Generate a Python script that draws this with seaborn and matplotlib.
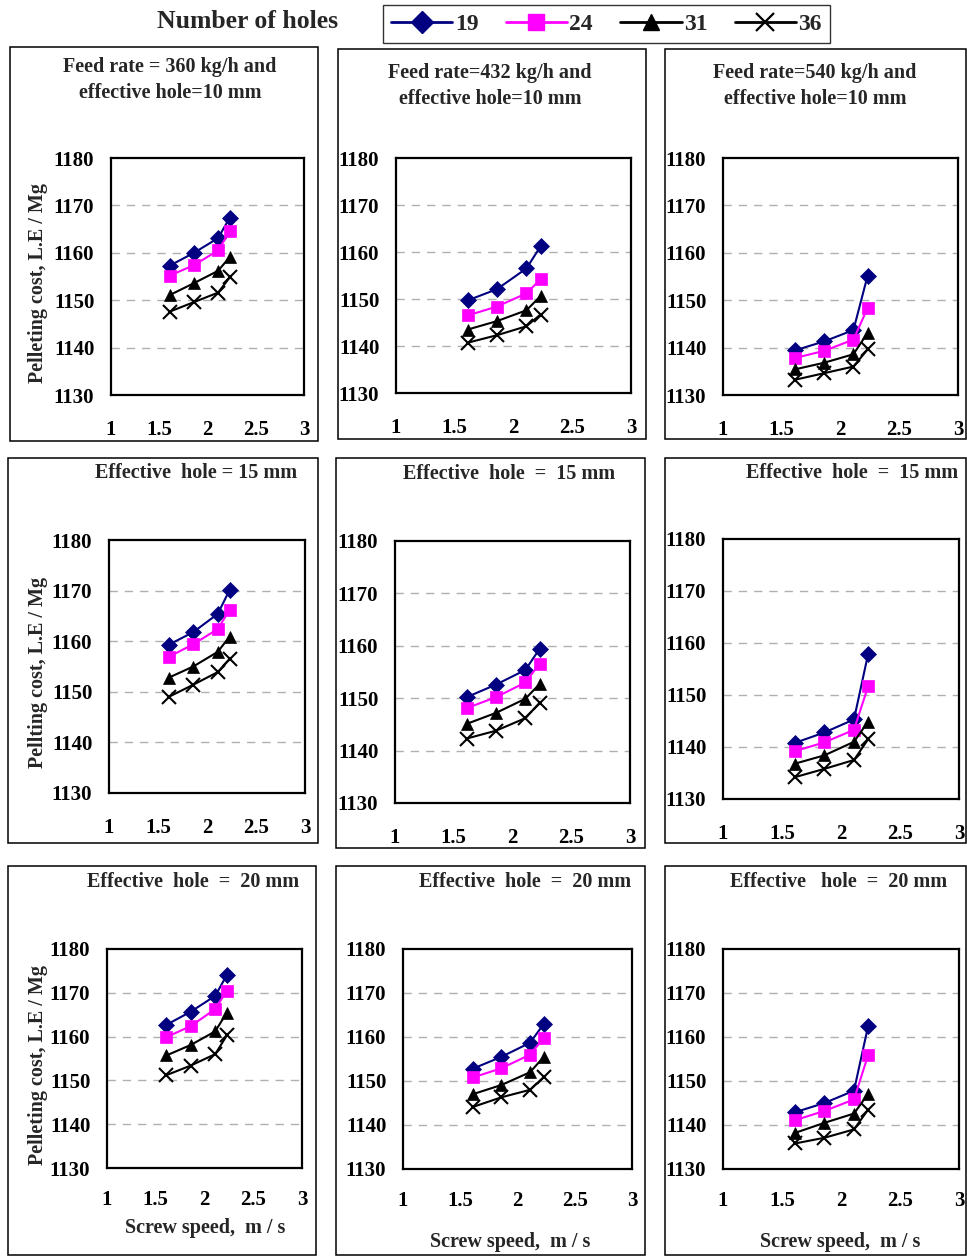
import matplotlib
matplotlib.use("Agg")
import matplotlib.pyplot as plt
import matplotlib.patches as mpatches
from matplotlib.lines import Line2D
import seaborn as sns
import pandas as pd

sns.set_theme(style="white")
plt.rcParams['font.family'] = ['Liberation Serif', 'DejaVu Serif']
plt.rcParams['font.weight'] = 'bold'

# ---------------- data ----------------
speed = [1.61, 1.86, 2.11, 2.23]
holes = ["19", "24", "31", "36"]

# row 1: effective hole = 10 mm ; feed rates 360 / 432 / 540 kg/h
r1c1_19 = [1157.3, 1160.0, 1163.1, 1167.4]
r1c1_24 = [1155.2, 1157.4, 1160.5, 1164.5]
r1c1_31 = [1151.1, 1153.6, 1156.2, 1159.1]
r1c1_36 = [1147.6, 1149.6, 1151.6, 1154.8]

r1c2_19 = [1149.7, 1152.1, 1156.5, 1161.2]
r1c2_24 = [1146.5, 1148.4, 1151.2, 1154.2]
r1c2_31 = [1143.5, 1145.3, 1147.6, 1150.6]
r1c2_36 = [1140.7, 1142.3, 1144.2, 1146.7]

r1c3_19 = [1139.4, 1141.3, 1143.7, 1155.1]
r1c3_24 = [1137.8, 1139.3, 1141.7, 1148.3]
r1c3_31 = [1135.4, 1136.8, 1138.6, 1143.1]
r1c3_36 = [1133.2, 1134.6, 1136.0, 1139.6]

# row 2: effective hole = 15 mm
r2c1_19 = [1159.3, 1161.8, 1165.4, 1170.1]
r2c1_24 = [1156.9, 1159.4, 1162.4, 1166.2]
r2c1_31 = [1152.8, 1155.0, 1157.9, 1160.9]
r2c1_36 = [1149.0, 1151.4, 1153.9, 1156.5]

r2c2_19 = [1150.2, 1152.6, 1155.4, 1159.4]
r2c2_24 = [1148.1, 1150.2, 1153.0, 1156.6]
r2c2_31 = [1145.1, 1147.2, 1149.9, 1152.7]
r2c2_36 = [1142.3, 1143.8, 1146.2, 1149.1]

r2c3_19 = [1140.8, 1142.8, 1145.3, 1157.9]
r2c3_24 = [1139.2, 1140.9, 1143.3, 1151.7]
r2c3_31 = [1136.8, 1138.4, 1141.0, 1144.9]
r2c3_36 = [1134.2, 1135.8, 1137.5, 1141.5]

# row 3: effective hole = 20 mm
r3c1_19 = [1162.7, 1165.7, 1169.3, 1174.1]
r3c1_24 = [1159.9, 1162.4, 1166.3, 1170.5]
r3c1_31 = [1155.7, 1158.1, 1161.2, 1165.5]
r3c1_36 = [1151.2, 1153.4, 1156.0, 1160.3]

r3c2_19 = [1152.8, 1155.5, 1158.7, 1163.0]
r3c2_24 = [1150.8, 1152.9, 1156.0, 1159.8]
r3c2_31 = [1147.0, 1149.1, 1152.0, 1155.5]
r3c2_36 = [1144.1, 1146.3, 1148.0, 1150.9]

r3c3_19 = [1142.9, 1145.0, 1147.8, 1162.5]
r3c3_24 = [1141.1, 1143.2, 1145.8, 1155.9]
r3c3_31 = [1138.2, 1140.5, 1142.6, 1147.1]
r3c3_36 = [1135.8, 1137.1, 1139.0, 1143.5]

panel_series = [
    [r1c1_19, r1c1_24, r1c1_31, r1c1_36],
    [r1c2_19, r1c2_24, r1c2_31, r1c2_36],
    [r1c3_19, r1c3_24, r1c3_31, r1c3_36],
    [r2c1_19, r2c1_24, r2c1_31, r2c1_36],
    [r2c2_19, r2c2_24, r2c2_31, r2c2_36],
    [r2c3_19, r2c3_24, r2c3_31, r2c3_36],
    [r3c1_19, r3c1_24, r3c1_31, r3c1_36],
    [r3c2_19, r3c2_24, r3c2_31, r3c2_36],
    [r3c3_19, r3c3_24, r3c3_31, r3c3_36],
]

titles = [
    "Feed rate = 360 kg/h and\neffective hole=10 mm",
    "Feed rate=432 kg/h and\neffective hole=10 mm",
    "Feed rate=540 kg/h and\neffective hole=10 mm",
    "Effective  hole = 15 mm",
    "Effective  hole  =  15 mm",
    "Effective  hole  =  15 mm",
    "Effective  hole  =  20 mm",
    "Effective  hole  =  20 mm",
    "Effective   hole  =  20 mm",
]
ylabels = ["Pelleting cost, L.E / Mg", "Pellting cost, L.E / Mg", "Pelleting cost, L.E / Mg"]
xlabel = "Screw speed,  m / s"
yticks = [1130, 1140, 1150, 1160, 1170, 1180]
xticks = [1, 1.5, 2, 2.5, 3]
xticklabels = ["1", "1.5", "2", "2.5", "3"]

# ---------------- styling ----------------
colors = ["#000080", "#FF00FF", "#000000", "#000000"]
markers = ["D", "s", "^", "x"]
msizes = [8, 8, 9, 10]

W, H = 967, 1256
fig = plt.figure(figsize=(W / 100, H / 100), dpi=100)
fig.patch.set_facecolor("white")

def fr(l, t, r, b):
    return [l / W, 1 - b / H, (r - l) / W, (b - t) / H]

# panel boxes (l, t, r, b)
boxes = [
    (10, 47, 318, 441), (338, 49, 646, 439), (665, 49, 966, 439),
    (8, 458, 318, 843), (336, 458, 645, 848), (665, 458, 966, 843),
    (8, 866, 316, 1255), (336, 866, 645, 1255), (665, 866, 966, 1255),
]
# plot areas (l, t, r, b)
areas = [
    (111, 158, 304, 395), (396, 158, 631, 393), (723, 158, 958, 395),
    (109, 540, 305, 793), (395, 541, 630, 803), (723, 539, 959, 799),
    (107, 949, 302, 1168), (403, 949, 632, 1169), (723, 949, 959, 1169),
]
# title centre x, first-line centre y
title_pos = [
    (170, 67), (490, 73), (815, 73),
    (196, 473), (509, 474), (852, 473),
    (193, 882), (525, 882), (839, 882),
]
xlabel_pos = [(205, 1228), (510, 1242), (840, 1242)]
ylabel_pos = [(38, 283), (38, 672), (38, 1065)]

for (l, t, r, b) in boxes:
    fig.add_artist(mpatches.Rectangle((l / W, 1 - b / H), (r - l) / W, (b - t) / H,
                                      transform=fig.transFigure, fill=False,
                                      ec="black", lw=1.1))

for i, (area, series) in enumerate(zip(areas, panel_series)):
    ax = fig.add_axes(fr(*area))
    ax.set_facecolor("white")
    for k, vals in enumerate(series):
        df = pd.DataFrame({"speed": speed, "cost": vals})
        kw = dict(color=colors[k], marker=markers[k], markersize=msizes[k], lw=1.5)
        if markers[k] == "x":
            kw.update(markeredgewidth=1.5, markeredgecolor="black")
        else:
            kw.update(markeredgecolor=colors[k], markeredgewidth=0.5)
        sns.lineplot(data=df, x="speed", y="cost", ax=ax, legend=False, **kw)
    ax.set_xlim(1, 3)
    ax.set_ylim(1130, 1180)
    ax.set_xticks(xticks)
    ax.set_xticklabels(xticklabels)
    ax.set_yticks(yticks)
    ax.set_xlabel("")
    ax.set_ylabel("")
    for yg in [1140, 1150, 1160, 1170]:
        ax.axhline(yg, color="#b0b0b0", lw=1.0, ls=(0, (6, 5)), zorder=0)
    for sp in ax.spines.values():
        sp.set_color("black")
        sp.set_linewidth(1.6)
    row = i // 3
    xpad = 14 if row < 2 else 12
    ax.tick_params(axis="both", which="both", direction="out", length=4, width=1,
                   color="black", labelsize=15, labelcolor="black")
    ax.tick_params(axis="x", pad=xpad)
    ax.tick_params(axis="y", pad=8)
    for lab in ax.get_xticklabels() + ax.get_yticklabels():
        lab.set_fontweight("bold")
    tx, ty = title_pos[i]
    fig.text(tx / W, 1 - (ty - 10) / H, titles[i], ha="center", va="top",
             fontsize=14.5, fontweight="bold", linespacing=1.4)

for j, (x, y) in enumerate(ylabel_pos):
    fig.text(x / W, 1 - y / H, ylabels[j], rotation=90, ha="center", va="center",
             fontsize=14.5, fontweight="bold")
for (x, y) in xlabel_pos:
    fig.text(x / W, 1 - y / H, xlabel, ha="center", va="center",
             fontsize=14.5, fontweight="bold")

# header
fig.text(248 / W, 1 - 21 / H, "Number of holes", ha="center", va="center",
         fontsize=18.5, fontweight="bold")
handles = []
for k in range(4):
    kw = dict(color=colors[k], marker=markers[k], markersize=msizes[k] + 3, lw=2.0)
    if markers[k] == "x":
        kw.update(markeredgewidth=1.6)
    handles.append(Line2D([0], [0], **kw))
leg = fig.legend(handles, holes, loc="center", bbox_to_anchor=((384 + 829) / 2 / W, 1 - 24 / H),
                 ncol=4, frameon=True, fancybox=False, edgecolor="black",
                 prop={"family": "Liberation Serif", "weight": "bold", "size": 17},
                 handlelength=2.6, handletextpad=0.1, columnspacing=1.15,
                 borderpad=0.35)
leg.get_frame().set_linewidth(1.0)

fig.savefig("out.png", dpi=100, facecolor="white")
